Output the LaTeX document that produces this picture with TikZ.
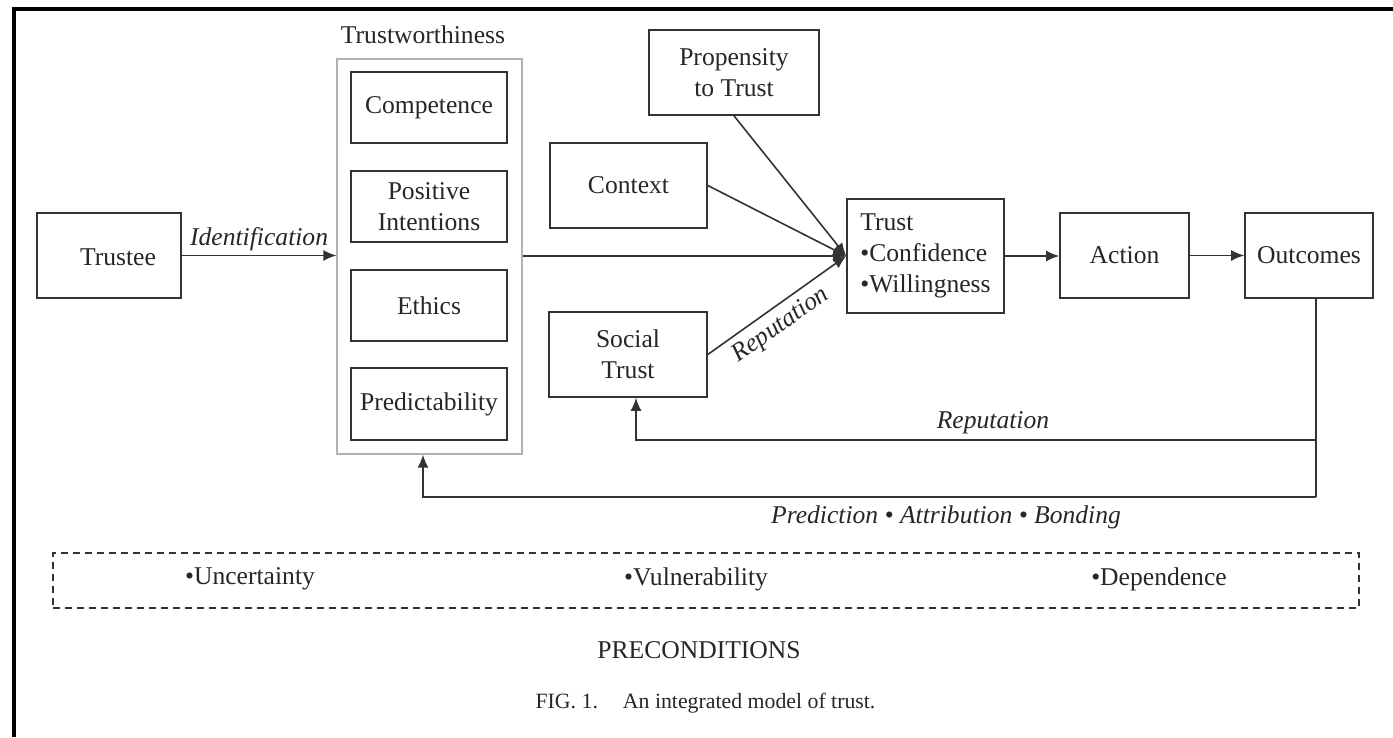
\documentclass[tikz,border=0pt]{standalone}
\usepackage{fontspec}
\setmainfont{Liberation Serif}
\usetikzlibrary{arrows.meta,calc}
\begin{document}
\begin{tikzpicture}[x=1pt,y=-1pt,
  every node/.style={font=\fontsize{25.6}{31}\selectfont, text=black!85},
  box/.style={draw=black!80, line width=1.6pt, align=center, inner sep=0pt},
  arr/.style={draw=black!80, line width=1.6pt, -{Latex[length=13pt,width=11pt]}},
  ln/.style={draw=black!80, line width=1.6pt},
  lab/.style={font=\itshape\fontsize{25.6}{31}\selectfont}]
\useasboundingbox (0,0) rectangle (1393,737);
\draw[line width=4pt] (13.5,737) -- (13.5,8.5) -- (1393,8.5);

% nodes
\node[box, minimum width=144pt, minimum height=85pt] (trustee) at (109,255.5) {};
\node (trusteetxt) at (118,257) {Trustee};

\node[draw=black!30, line width=1.2pt, minimum width=185pt, minimum height=395pt] (tw) at (429.5,256.5) {};
\node (twlab) at (423,35) {Trustworthiness};
\node[box, minimum width=156pt, minimum height=71pt] (comp) at (429,107.5) {Competence};
\node[box, minimum width=156pt, minimum height=71pt] (pos) at (429,206.5) {Positive\\Intentions};
\node[box, minimum width=156pt, minimum height=71pt] (eth) at (429,305.5) {Ethics};
\node[box, minimum width=156pt, minimum height=72pt] (pred) at (429,404) {Predictability};

\node[box, minimum width=170pt, minimum height=85pt] (prop) at (734,72.5) {Propensity\\to Trust};
\node[box, minimum width=157pt, minimum height=85pt] (ctx) at (628.5,185.5) {Context};
\node[box, minimum width=158pt, minimum height=85pt] (soc) at (628,354.5) {Social\\Trust};
\node[box, minimum width=157pt, minimum height=114pt, align=left] (trust) at (925.5,256) {Trust\\•Confidence\\•Willingness};
\node[box, minimum width=129pt, minimum height=85pt] (act) at (1124.5,255.5) {Action};
\node[box, minimum width=128pt, minimum height=85pt] (out) at (1309,255.5) {Outcomes};

% connectors
\coordinate (J) at (trust.west);
\draw[arr] (trustee.east) -- node[lab, above] {Identification} (trustee.east -| tw.west);
\draw[arr] (tw.east |- J) -- (J);
\draw[arr] (ctx.east) -- (J);
\draw[arr] (prop.south) -- (J);
\draw[arr] (soc.east) -- node[lab, sloped, below, pos=0.45, inner sep=7pt] {Reputation} (J);
\draw[arr] (trust.east) -- (trust.east -| act.west);
\draw[arr] (act.east) -- (act.east -| out.west);

\coordinate (od) at (1316,298);
\coordinate (rj) at (1316,440);
\coordinate (pj) at (1316,497);
\coordinate (sb) at ($(soc.south)+(8,0)$);
\coordinate (tb) at ($(tw.south)+(-6.5,0)$);
\draw[ln] (od) -- (pj);
\draw[arr] (rj) -| (sb);
\draw[arr] (pj) -| (tb);
\node[lab] (replab) at (993,423) {Reputation};
\node[lab] (pablab) at (946,517) {Prediction • Attribution • Bonding};

% preconditions
\node[draw=black!80, dash pattern=on 7pt off 5pt, line width=1.4pt, minimum width=1306pt, minimum height=55pt] (pre) at (706,580.5) {};
\node (unc) at (250,579) {•Uncertainty};
\node (vul) at (696,579) {•Vulnerability};
\node (dep) at (1159,579) {•Dependence};
\node (prelab) at (699,650) {PRECONDITIONS};
\node[font=\fontsize{21.8}{26}\selectfont] (cap) at (705.5,703) {FIG. 1.\hspace{25pt}An integrated model of trust.};
\end{tikzpicture}
\end{document}
